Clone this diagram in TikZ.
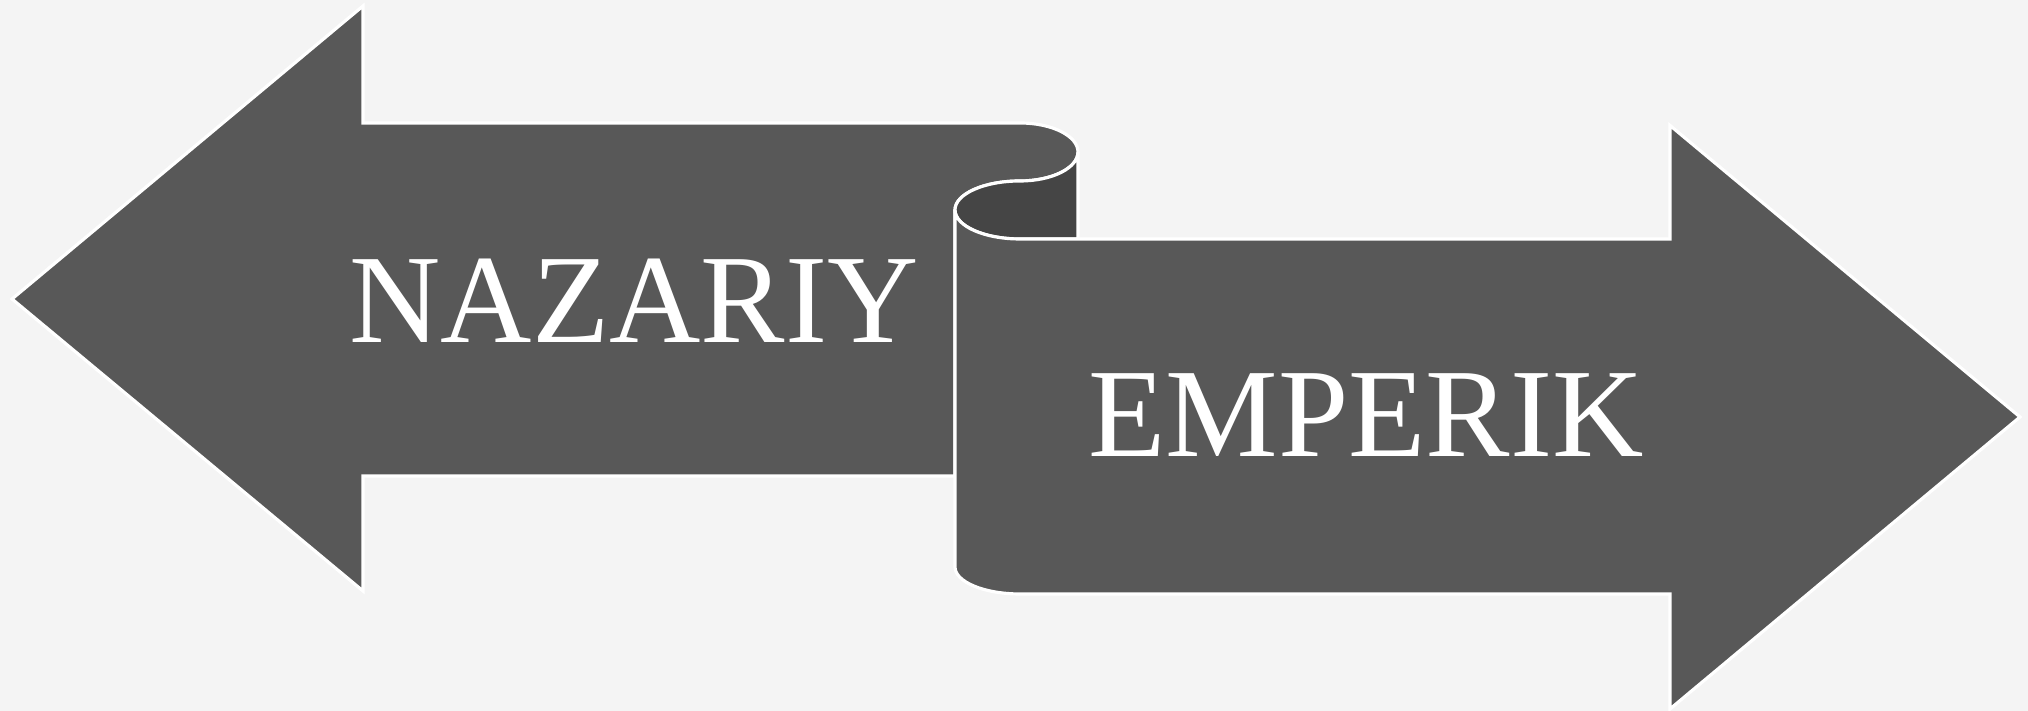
\documentclass[tikz,border=0pt]{standalone}
\usepackage{fontspec}
\setmainfont{Liberation Serif}
\usepackage{tikz}
\definecolor{paper}{HTML}{F4F4F4}
\definecolor{arrowgray}{HTML}{585858}
\definecolor{curlgray}{HTML}{454545}
\tikzset{
  bigarrow/.style={fill=arrowgray, draw=white, line width=0.9pt, line join=miter},
  arrowlabel/.style={anchor=base, text=white, inner sep=0pt,
    font=\fontsize{36}{40}\selectfont}
}

\begin{document}
\begin{tikzpicture}
\fill[paper] (0,0) rectangle (20.28,7.11);
\useasboundingbox (0,0) rectangle (20.28,7.11);
% left arrow with the curl on top
\draw[bigarrow] (9.55,2.35) -- (3.63,2.35) -- (3.63,1.20) -- (0.12,4.12)
  -- (3.63,7.05) -- (3.63,5.88) -- (10.20,5.88)
  arc[start angle=90, end angle=-90, x radius=0.58, y radius=0.29]
  arc[start angle=90, end angle=180, x radius=0.65, y radius=0.29] -- cycle;
\draw[fill=curlgray, draw=white, line width=0.9pt] (10.78,5.59)
  arc[start angle=0, end angle=-90, x radius=0.58, y radius=0.29]
  arc[start angle=90, end angle=270, x radius=0.65, y radius=0.29]
  -- (10.78,4.72) -- cycle;
% right arrow
\draw[bigarrow] (10.20,4.72) -- (16.70,4.72) -- (16.70,5.855) -- (20.20,2.94)
  -- (16.70,0.02) -- (16.70,1.17) -- (10.20,1.17)
  arc[start angle=270, end angle=180, x radius=0.65, y radius=0.27]
  -- (9.55,5.01)
  arc[start angle=180, end angle=270, x radius=0.65, y radius=0.29] -- cycle;
\node[arrowlabel] (nazariy) at (6.34,3.68) {NAZARIY};
\node[arrowlabel] (emperik) at (13.66,2.54) {EMPERIK};
\end{tikzpicture}
\end{document}
